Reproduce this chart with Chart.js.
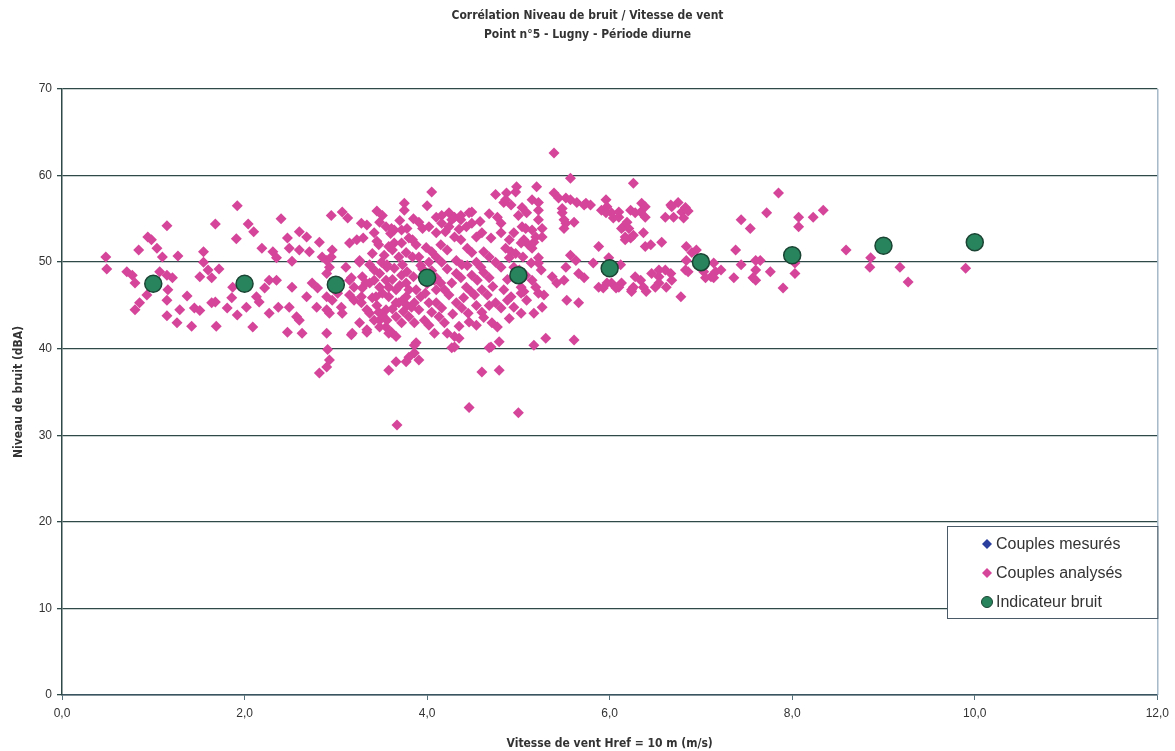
<!DOCTYPE html>
<html lang="fr">
<head>
<meta charset="utf-8">
<title>Corrélation Niveau de bruit / Vitesse de vent</title>
<script src="https://cdn.jsdelivr.net/npm/chart.js@4.4.1/dist/chart.umd.min.js"></script>
<style>
  html, body { margin: 0; padding: 0; background: #fff; }
  #wrap { width: 1175px; height: 751px; }
</style>
</head>
<body>
<div id="wrap"><canvas id="graphe" width="1175" height="751"></canvas></div>
<script>
// Titres et libelles
const titreLignes = ['Corrélation Niveau de bruit / Vitesse de vent', 'Point n°5 - Lugny - Période diurne'];
const titreX = 'Vitesse de vent Href = 10 m (m/s)';
const titreY = 'Niveau de bruit (dBA)';
const libellesSeries = ['Couples mesurés', 'Couples analysés', 'Indicateur bruit'];

// Indicateur bruit par classe de vitesse
const vitessesIndicateur = [1, 2, 3, 4, 5, 6, 7, 8, 9, 10];
const niveauxIndicateur = [47.5, 47.5, 47.4, 48.2, 48.5, 49.3, 50.0, 50.8, 51.9, 52.3];

// Couples mesures (tous recouverts par les couples analyses)
const couplesMesures = [];

// Couples analyses [vitesse m/s, niveau dBA]
const couplesAnalyses = [
  [0.48,50.6],[0.49,49.2],[0.71,48.9],[0.77,48.5],[0.80,47.6],[0.94,52.9],[0.98,52.6],[0.84,51.4],[1.04,51.6],[0.85,45.3],
  [0.80,44.5],[0.93,46.2],[1.10,50.6],[1.15,54.2],[1.07,48.9],[1.15,48.5],[1.21,48.2],[1.16,46.8],[1.15,45.6],[1.27,50.7],
  [1.37,46.1],[1.29,44.5],[1.15,43.8],[1.26,43.0],[1.42,42.6],[1.45,44.7],[1.51,44.4],[1.55,51.2],[1.55,50.0],[1.60,49.1],
  [1.72,49.2],[1.51,48.3],[1.64,48.2],[1.64,45.3],[1.68,45.4],[1.69,42.6],[1.68,54.4],[1.92,56.5],[1.91,52.7],[1.87,47.1],
  [1.86,45.9],[1.81,44.7],[1.92,43.9],[2.02,44.8],[2.09,42.5],[2.13,46.0],[2.16,45.4],[2.22,47.0],[2.27,47.9],[2.35,47.9],
  [2.04,54.4],[2.10,53.5],[2.19,51.6],[2.31,51.2],[2.35,50.5],[2.40,55.0],[2.47,52.8],[2.49,51.6],[2.52,50.1],[2.60,53.5],
  [2.68,52.9],[2.60,51.4],[2.71,51.2],[2.82,52.3],[2.27,44.1],[2.37,44.8],[2.49,44.8],[2.52,47.1],[2.57,43.7],[2.60,43.3],
  [2.47,41.9],[2.63,41.8],[2.68,46.0],[2.74,47.6],[2.80,47.0],[2.79,44.8],[2.90,44.5],[2.90,41.8],[2.90,50.2],[2.93,49.4],
  [2.90,48.7],[2.96,51.4],[2.91,39.9],[2.93,38.7],[2.90,37.9],[2.82,37.2],[2.85,50.6],[2.95,55.4],[3.07,55.8],[3.13,55.1],
  [2.95,50.6],[3.15,52.2],[3.23,52.6],[3.28,54.5],[3.34,54.3],[3.45,55.9],[3.51,55.4],[3.48,54.6],[3.55,54.1],[3.42,53.4],
  [3.58,51.8],[3.64,52.2],[3.64,53.7],[3.72,53.7],[3.78,53.9],[3.75,56.8],[3.75,56.0],[3.80,52.8],[3.84,52.6],[3.91,54.6],
  [3.95,53.9],[4.05,58.1],[4.10,55.2],[4.16,55.4],[4.24,55.7],[4.27,54.9],[4.37,54.9],[4.49,55.8],[3.11,49.4],[3.17,48.2],
  [3.26,50.2],[3.20,47.1],[3.29,47.0],[3.37,47.6],[3.42,49.1],[3.48,48.7],[3.56,49.7],[3.64,49.3],[3.73,49.7],[3.78,48.9],
  [2.90,46.0],[2.96,45.6],[2.93,44.1],[3.06,44.8],[3.02,46.4],[3.15,46.2],[3.20,45.6],[3.28,45.3],[3.34,44.5],[3.40,45.9],
  [3.45,45.0],[3.51,46.4],[3.58,46.0],[3.55,44.5],[3.66,46.8],[3.69,45.3],[3.77,46.0],[3.83,44.8],[3.26,43.0],[3.34,42.2],
  [3.48,43.3],[3.55,42.5],[3.58,41.8],[3.17,41.6],[3.88,40.7],[3.86,39.5],[3.91,38.7],[3.80,39.0],[3.77,38.5],[3.66,38.5],
  [3.58,37.5],[3.67,31.2],[4.46,33.2],[4.27,40.1],[3.60,53.3],[3.61,53.9],[4.02,54.1],[4.10,53.4],[3.62,51.4],[3.72,52.2],
  [3.88,52.0],[3.99,51.7],[4.05,51.2],[3.77,51.1],[3.84,50.6],[3.91,50.6],[3.26,50.0],[3.37,49.7],[3.50,50.0],[3.56,49.4],
  [3.72,48.5],[3.15,47.9],[3.29,48.3],[3.33,47.6],[3.42,47.9],[3.48,47.1],[3.55,47.9],[3.58,47.1],[3.77,47.6],[3.80,46.8],
  [3.88,46.8],[3.93,46.0],[4.08,47.9],[4.10,46.8],[3.28,46.0],[3.44,46.0],[3.66,45.3],[3.73,45.6],[3.78,45.0],[3.86,45.3],
  [3.91,44.5],[4.02,45.3],[4.05,44.2],[3.07,44.1],[3.37,44.1],[3.42,43.3],[3.51,43.9],[3.56,43.3],[3.66,43.7],[3.72,43.0],
  [3.80,43.7],[3.86,43.0],[3.97,43.3],[4.02,42.7],[3.18,41.8],[3.34,41.9],[3.61,41.9],[3.66,41.4],[3.48,42.5],[4.08,41.8],
  [3.86,40.4],[4.75,57.8],[4.87,58.0],[4.97,58.1],[4.84,56.9],[4.92,56.6],[5.15,57.2],[4.30,55.2],[4.37,55.4],[4.46,55.7],
  [4.16,54.5],[4.24,54.1],[4.43,54.1],[4.49,54.5],[4.77,55.2],[4.81,54.5],[5.00,55.4],[5.09,55.7],[5.04,54.1],[5.15,53.7],
  [4.30,52.9],[4.37,52.6],[4.54,52.9],[4.60,53.4],[4.70,52.8],[4.81,53.4],[4.90,52.6],[5.06,52.6],[5.11,52.0],[4.15,52.0],
  [4.22,51.4],[4.44,51.6],[4.49,51.1],[4.62,51.2],[4.68,50.6],[4.86,51.6],[4.92,51.2],[5.15,51.6],[4.10,50.6],[4.16,50.0],
  [4.32,50.2],[4.38,49.7],[4.54,50.0],[4.59,49.4],[4.75,50.0],[4.81,49.4],[5.14,49.9],[4.10,48.2],[4.15,47.6],[4.32,48.7],
  [4.37,48.2],[4.49,48.5],[4.55,47.9],[4.68,48.2],[5.08,48.5],[5.15,47.9],[4.19,46.8],[4.24,46.2],[4.43,47.1],[4.48,46.6],
  [4.60,46.8],[4.66,46.2],[4.84,46.8],[4.92,46.0],[5.03,46.4],[5.09,45.6],[4.10,45.3],[4.16,44.7],[4.32,45.3],[4.38,44.7],
  [4.54,45.0],[4.60,44.2],[4.75,45.3],[4.81,44.7],[4.95,44.8],[5.03,44.1],[5.17,44.1],[4.13,43.7],[4.19,43.0],[4.46,43.1],
  [4.54,42.7],[4.71,43.0],[4.77,42.5],[4.22,41.8],[4.30,41.4],[4.35,41.2],[4.79,40.8],[4.30,40.2],[4.70,40.2],[5.17,40.4],
  [5.39,62.6],[5.57,59.7],[4.98,58.7],[4.86,57.2],[5.20,58.7],[5.39,58.0],[5.44,57.4],[5.52,57.4],[5.57,57.2],[5.64,56.9],
  [5.74,56.8],[5.79,56.6],[5.96,57.2],[5.97,56.4],[6.02,55.7],[6.10,55.2],[6.15,54.1],[6.17,52.9],[6.23,52.8],[6.26,59.1],
  [5.22,56.9],[5.22,56.0],[5.22,54.9],[5.26,53.9],[5.08,53.9],[5.19,52.9],[5.48,55.7],[5.52,54.5],[5.61,54.6],[5.50,53.9],
  [5.88,51.8],[5.57,50.8],[5.63,50.2],[5.52,49.4],[5.22,49.9],[5.25,49.1],[5.01,49.1],[5.06,48.3],[5.03,47.1],[5.06,46.6],
  [5.19,47.1],[5.22,46.4],[5.37,48.3],[5.42,47.6],[5.50,47.9],[5.66,48.7],[5.72,48.2],[5.88,47.1],[5.93,47.0],[6.02,47.6],
  [6.10,47.1],[6.24,46.8],[5.53,45.6],[5.66,45.3],[5.26,44.8],[5.30,41.2],[5.61,41.0],[4.68,40.1],[4.60,37.3],[4.79,37.5],
  [5.00,32.6],[5.72,56.6],[5.48,56.2],[5.91,56.0],[5.96,55.7],[6.10,55.8],[6.04,55.1],[6.23,56.0],[6.28,55.7],[6.34,55.8],
  [6.35,56.8],[6.39,55.2],[6.19,54.6],[6.21,53.9],[6.67,56.6],[6.75,56.9],[6.79,55.8],[6.61,55.2],[6.70,55.2],[6.81,55.1],
  [5.04,56.3],[5.50,54.9],[6.13,53.9],[6.26,53.1],[6.37,53.4],[6.39,51.8],[6.45,52.0],[6.57,52.3],[5.26,52.9],[5.03,52.2],
  [5.17,52.3],[6.84,51.8],[6.90,51.1],[5.22,50.5],[5.82,49.9],[5.99,50.5],[6.12,49.7],[6.28,48.3],[6.34,47.9],[6.46,48.7],
  [6.54,48.3],[6.61,49.1],[6.67,48.7],[6.54,47.6],[6.83,49.1],[7.03,48.9],[7.11,48.3],[7.14,49.9],[5.97,47.6],[6.07,47.0],
  [6.26,47.1],[6.37,47.1],[6.40,46.6],[6.50,47.1],[6.78,46.0],[5.28,46.2],[6.39,56.4],[6.17,52.6],[6.68,56.4],[6.83,56.3],
  [6.13,47.6],[6.24,46.6],[6.54,49.1],[6.68,47.9],[6.62,47.1],[6.95,51.4],[6.84,50.2],[6.86,48.9],[7.05,48.2],[7.16,48.9],
  [7.22,49.1],[7.14,48.2],[7.36,48.2],[7.38,51.4],[7.44,54.9],[7.54,53.9],[7.44,49.7],[7.60,50.2],[7.65,50.2],[7.60,49.1],
  [7.57,48.2],[7.76,48.9],[7.72,55.7],[7.85,58.0],[8.07,55.2],[8.07,54.1],[8.23,55.2],[8.34,56.0],[7.90,47.0],[8.03,48.7],
  [8.03,49.9],[8.59,51.4],[8.86,50.5],[8.85,49.4],[9.18,49.4],[9.27,47.7],[9.90,49.3],[6.86,55.9],[7.60,47.9],
  [3.40,51.0],[3.47,52.0],[3.53,50.8],[3.69,50.6],[3.95,49.2],[4.02,50.0],[4.05,49.0],[4.22,49.2],[4.27,47.6],[4.44,49.6],
  [4.62,48.8],[4.72,47.2],[4.88,48.0],[4.95,49.4],[4.90,50.5],[4.40,45.9],[4.52,46.2],[4.68,45.0],[4.88,45.6],[4.28,44.0],
  [4.45,44.1],[4.62,43.6],[4.90,43.5],[4.35,42.6],[3.98,46.4],[4.00,47.5],[3.70,47.3],[3.62,48.0],[3.85,48.3],[3.93,49.6],
  [3.47,44.2],[3.62,44.6],[3.74,44.3],[3.30,52.8],[3.45,52.4],[3.70,54.8],[3.85,55.0],[4.00,56.5],[4.20,53.5],[4.35,53.8],
  [4.58,54.7],[4.68,55.6],[4.95,53.4],[4.97,51.0],[5.05,50.6]
];

const rose = '#d5459a';
const bleu = '#2a3f9e';
const vertFond = '#27845c';
const vertBord = '#1b4434';
const gris = '#333';
const police = "'Liberation Sans', Arial, sans-serif";
const policeEtroite = "'Liberation Sans Narrow', 'DejaVu Sans Condensed', 'Arial Narrow', sans-serif";

function virgule(v) {
  return v.toFixed(1).replace('.', ',');
}

// Titre, legende encadree et bordure droite de la zone de trace
const decor = {
  id: 'decor',
  afterDraw(chart) {
    const ctx = chart.ctx;
    const area = chart.chartArea;
    ctx.save();

    ctx.strokeStyle = '#8fa7ba';
    ctx.lineWidth = 1.2;
    ctx.beginPath();
    ctx.moveTo(area.right + 0.5, area.top);
    ctx.lineTo(area.right + 0.5, area.bottom);
    ctx.stroke();

    ctx.fillStyle = gris;
    ctx.font = 'bold 12px ' + policeEtroite;
    ctx.textAlign = 'center';
    ctx.textBaseline = 'middle';
    titreLignes.forEach((t, i) => ctx.fillText(t, chart.width / 2, 16 + i * 19));

    const bx = 947, by = 526, bw = area.right - 947, bh = 92;
    ctx.fillStyle = '#fff';
    ctx.fillRect(bx, by, bw, bh);
    ctx.strokeStyle = '#4a5a66';
    ctx.lineWidth = 1;
    ctx.strokeRect(bx + 0.5, by + 0.5, bw, bh);

    ctx.font = '16px ' + police;
    ctx.textAlign = 'left';
    chart.data.datasets.forEach((ds, i) => {
      const y = by + 18 + i * 29;
      const x = 987;
      ctx.fillStyle = ds.backgroundColor;
      ctx.strokeStyle = ds.borderColor;
      ctx.lineWidth = 1;
      ctx.beginPath();
      if (ds.pointStyle === 'circle') {
        ctx.arc(x, y, 5.5, 0, Math.PI * 2);
        ctx.fill();
        ctx.stroke();
      } else {
        ctx.moveTo(x, y - 5); ctx.lineTo(x + 5, y); ctx.lineTo(x, y + 5); ctx.lineTo(x - 5, y);
        ctx.closePath();
        ctx.fill();
      }
      ctx.fillStyle = gris;
      ctx.fillText(ds.label, 996, y + 1);
    });
    ctx.restore();
  }
};

const graphe = new Chart(document.getElementById('graphe').getContext('2d'), {
  type: 'scatter',
  data: {
    datasets: [
      {
        label: libellesSeries[0],
        data: couplesMesures.map(p => ({ x: p[0], y: p[1] })),
        pointStyle: 'rectRot',
        pointRadius: 5.5,
        backgroundColor: bleu,
        borderColor: bleu,
        borderWidth: 0,
        order: 2
      },
      {
        label: libellesSeries[1],
        data: couplesAnalyses.map(p => ({ x: p[0], y: p[1] })),
        pointStyle: 'rectRot',
        pointRadius: 5.5,
        backgroundColor: rose,
        borderColor: rose,
        borderWidth: 0,
        order: 1
      },
      {
        label: libellesSeries[2],
        data: vitessesIndicateur.map((v, i) => ({ x: v, y: niveauxIndicateur[i] })),
        pointStyle: 'circle',
        pointRadius: 8.5,
        backgroundColor: vertFond,
        borderColor: vertBord,
        borderWidth: 1.5,
        order: 0
      }
    ]
  },
  options: {
    responsive: false,
    animation: false,
    layout: { padding: { top: 89, right: 15, left: 12, bottom: 0 } },
    plugins: {
      legend: { display: false },
      title: { display: false },
      tooltip: { enabled: false }
    },
    scales: {
      x: {
        type: 'linear',
        min: 0,
        max: 12,
        ticks: {
          stepSize: 2,
          color: gris,
          font: { family: police, size: 12 },
          padding: 6,
          callback: v => virgule(v)
        },
        grid: { drawOnChartArea: false, tickLength: 5, tickColor: '#55707a' },
        border: { color: '#3b5560', width: 1.5 },
        title: {
          display: true,
          text: titreX,
          color: gris,
          font: { family: policeEtroite, size: 12, weight: 'bold' },
          padding: { top: 4, bottom: 0 }
        },
        afterFit: s => { s.height = 56; }
      },
      y: {
        min: 0,
        max: 70,
        ticks: {
          stepSize: 10,
          color: gris,
          font: { family: police, size: 12 },
          padding: 5
        },
        grid: { color: '#2f4848', lineWidth: 1.3, tickLength: 5, tickColor: '#2f4848' },
        border: { color: '#2f4848', width: 1.5 },
        title: {
          display: true,
          text: titreY,
          color: gris,
          font: { family: policeEtroite, size: 12, weight: 'bold' },
          padding: { top: 0, bottom: 4 }
        },
        afterFit: s => { s.width = 50; }
      }
    }
  },
  plugins: [decor]
});
</script>
</body>
</html>
